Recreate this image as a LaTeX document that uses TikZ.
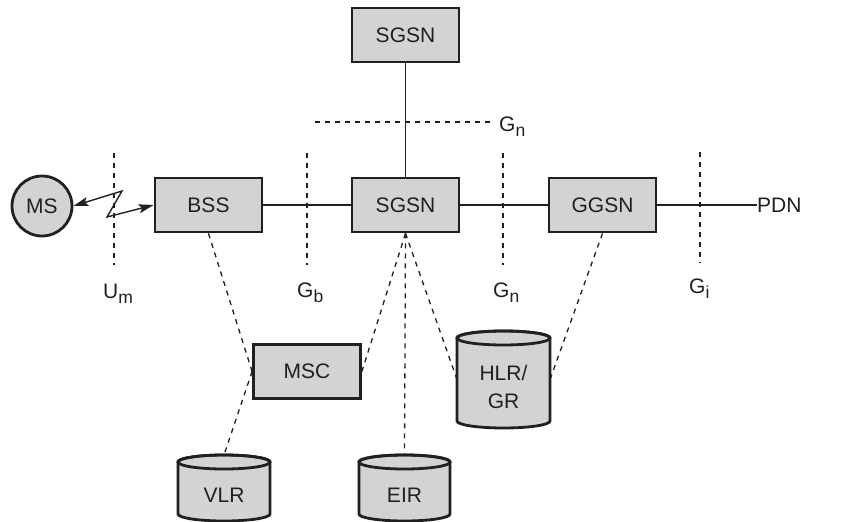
\documentclass[tikz,border=0pt]{standalone}
\usepackage{fontspec}
\setmainfont{Liberation Sans}
\usetikzlibrary{arrows.meta}
\definecolor{boxgray}{RGB}{211,211,211}
\definecolor{ink}{RGB}{35,31,32}
\newcommand\ifacelbl[2]{#1\raisebox{-5pt}{\fontsize{17.5}{17.5}\selectfont #2}}
% name, cx, ytop, ybot, half width, text
\newcommand\dbcyl[6]{%
  \path[fill=boxgray,draw=ink,line width=2.8pt]
    (#2-#5,#3+7) -- (#2-#5,#4-7)
    arc[start angle=180,end angle=360,x radius=#5pt,y radius=7pt]
    -- (#2+#5,#3+7)
    arc[start angle=0,end angle=180,x radius=#5pt,y radius=7pt] -- cycle;
  \draw[ink,line width=2.8pt] (#2,#3+7) ellipse[x radius=#5pt,y radius=7pt];
  \node[dbarea,minimum width=2*#5pt,minimum height=#4pt-#3pt] (#1) at (#2,{(#3+#4)/2}) {};
  \node[dbtext] (#1-t) at (#2,{(#3+14+#4)/2}) {#6};
}
\begin{document}
\begin{tikzpicture}[x=1pt,y=-1pt,line join=miter,
  every node/.style={font=\fontsize{21}{28}\selectfont,text=ink},
  box/.style={draw=ink,line width=2.8pt,fill=boxgray,minimum width=107pt,minimum height=54pt,inner sep=0pt},
  sta/.style={draw=ink,circle,line width=2.8pt,fill=boxgray,minimum size=60pt,inner sep=0pt},
  dbarea/.style={inner sep=0pt,outer sep=0pt},
  dbtext/.style={inner sep=0pt,align=center},
  link/.style={draw=ink,line width=1.4pt},
  dlink/.style={draw=ink,line width=1.3pt,dash pattern=on 5pt off 5pt},
  iface/.style={draw=ink,line width=1.3pt,dash pattern=on 5pt off 5pt},
  lbl/.style={inner sep=0pt,anchor=base west}]
\useasboundingbox (0,0) rectangle (863,522);

% interface boundaries
\draw[iface] (114,153) -- (114,265);
\draw[iface] (307,153) -- (307,265);
\draw[iface] (503,153) -- (503,265);
\draw[iface] (700,152) -- (700,263);
\draw[iface] (315,122) -- (493,122);

% nodes
\node[box] (sgsntop) at (405.5,35) {SGSN};
\node[box] (sgsn) at (405.5,205) {SGSN};
\node[box] (bss) at (208.5,205) {BSS};
\node[box] (ggsn) at (602.5,205) {GGSN};
\node[sta] (ms) at (42,206) {MS};
\node[box] (msc) at (307,371.5) {MSC};
\node[inner sep=0pt,anchor=west] (pdn) at (757,205) {PDN};

\dbcyl{hlr}{503.5}{331}{428}{46.5}{HLR/\\GR}
\dbcyl{vlr}{224}{455}{521}{46}{VLR}
\dbcyl{eir}{404.5}{455}{521}{45.5}{EIR}

% interface labels
\node[lbl] (um) at (103,298) {\ifacelbl{U}{m}};
\node[lbl] (gb) at (297,297) {\ifacelbl{G}{b}};
\node[lbl] (gn) at (493,297) {\ifacelbl{G}{n}};
\node[lbl] (gi) at (689,293) {\ifacelbl{G}{i}};
\node[lbl] (gntop) at (499,131) {\ifacelbl{G}{n}};

% solid links
\draw[link] (sgsntop.south) -- (sgsn.north);
\draw[link] (bss.east) -- (sgsn.west);
\draw[link] (sgsn.east) -- (ggsn.west);
\draw[link] (ggsn.east) -- (pdn.west);

% radio link
\draw[link,{Stealth[length=15pt,width=9pt,inset=3pt]}-{Stealth[length=15pt,width=9pt,inset=3pt]}]
  (ms.east) -- (122,191) -- (107,217) -- (bss.west);

% signalling (dashed) links
\draw[dlink] (bss.south) -- (msc.west);
\draw[dlink] (msc.west) -- (vlr.north);
\draw[dlink] (sgsn.south) -- (msc.east);
\draw[dlink] (sgsn.south) -- (eir.north);
\draw[dlink] (sgsn.south) -- (hlr.west);
\draw[dlink] (ggsn.south) -- (hlr.east);
\end{tikzpicture}
\end{document}
